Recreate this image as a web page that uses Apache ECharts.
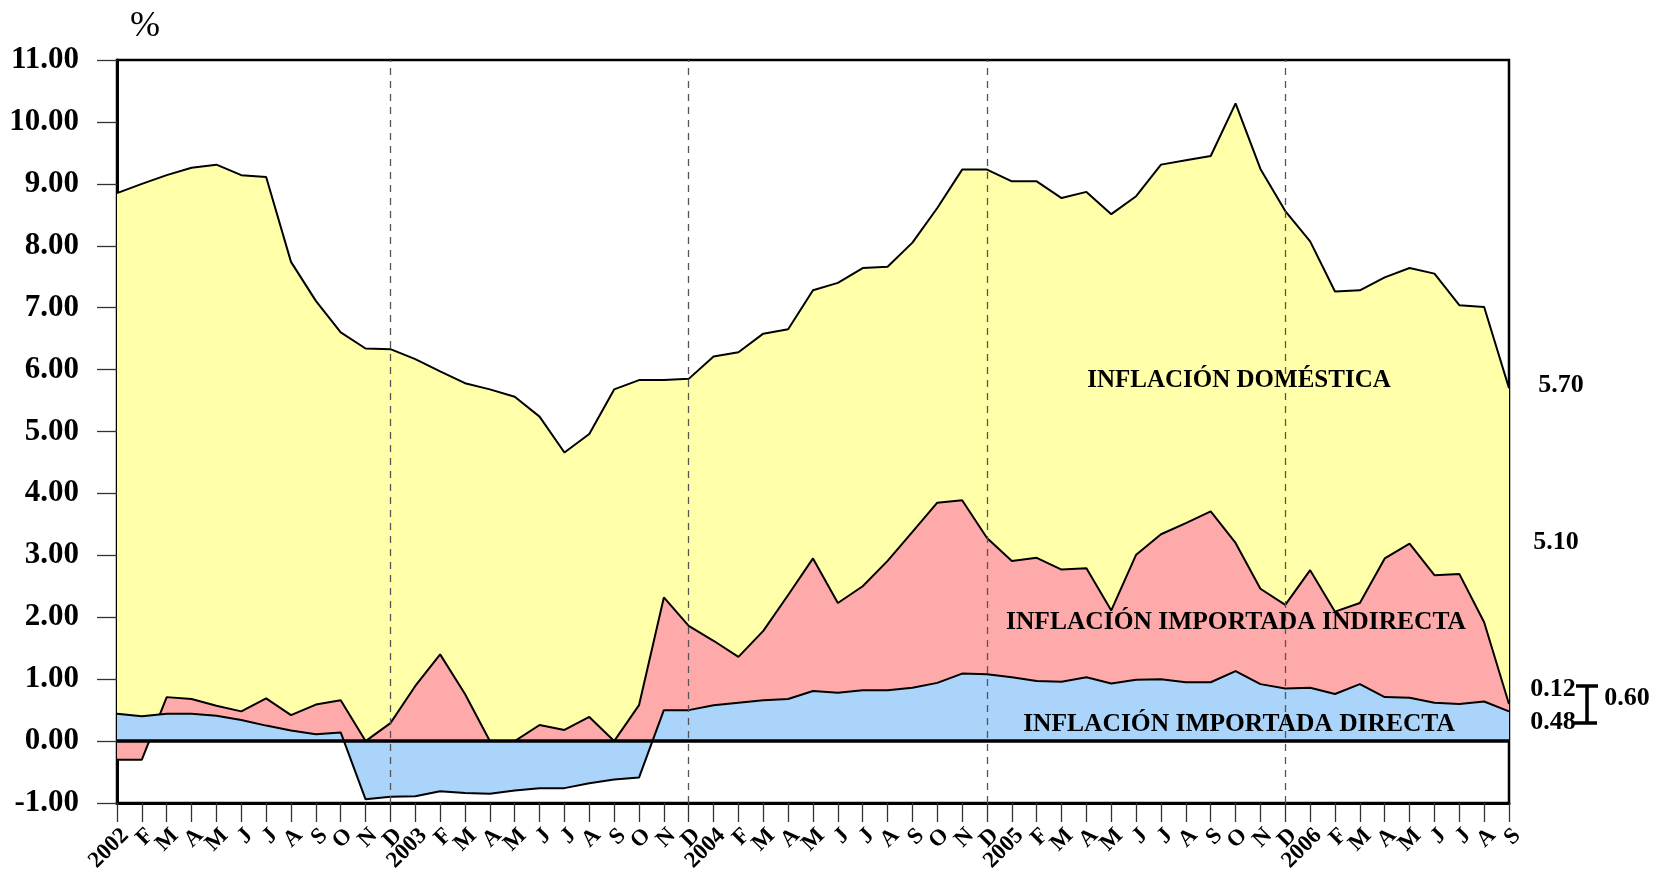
<!DOCTYPE html>
<html><head><meta charset="utf-8">
<script src="https://cdn.jsdelivr.net/npm/echarts@6/dist/echarts.min.js"></script>
<style>html,body{margin:0;padding:0;background:#fff}#c{width:1656px;height:869px}</style>
</head><body><div id="c"></div>
<script>
// Month tick labels, Jan 2002 .. Sep 2006
const tickLabels = [
  '2002','F','M','A','M','J','J','A','S','O','N','D',
  '2003','F','M','A','M','J','J','A','S','O','N','D',
  '2004','F','M','A','M','J','J','A','S','O','N','D',
  '2005','F','M','A','M','J','J','A','S','O','N','D',
  '2006','F','M','A','M','J','J','A','S'
];
// Inflación importada directa (%)
const direct = [
  0.44,0.40,0.44,0.44,0.41,0.34,0.25,0.17,0.11,0.14,-0.94,-0.90,
  -0.89,-0.81,-0.84,-0.85,-0.80,-0.76,-0.76,-0.68,-0.62,-0.59,0.50,0.50,
  0.58,0.62,0.66,0.68,0.81,0.78,0.82,0.82,0.86,0.94,1.09,1.08,
  1.03,0.97,0.96,1.03,0.93,0.99,1.00,0.95,0.95,1.13,0.92,0.85,
  0.86,0.76,0.92,0.71,0.70,0.62,0.60,0.64,0.48
];
// Inflación importada indirecta (%)
const indirect = [
  -0.30,-0.30,0.27,0.24,0.16,0.14,0.44,0.25,0.48,0.52,0,0.29,
  0.89,1.40,0.76,0,0,0.26,0.18,0.39,0,0.58,1.82,1.36,
  1.04,0.74,1.12,1.68,2.14,1.45,1.68,2.09,2.52,2.91,2.80,2.20,
  1.88,1.99,1.81,1.76,1.18,2.02,2.34,2.57,2.76,2.07,1.54,1.35,
  1.90,1.33,1.31,2.24,2.49,2.06,2.10,1.28,0.12
];
// Inflación doméstica (%)
const domestic = [
  8.41,8.60,8.43,8.58,8.74,8.66,8.42,7.32,6.52,5.94,6.34,6.04,
  5.28,4.57,5.02,5.68,5.56,4.98,4.48,4.57,5.68,5.25,3.51,3.99,
  4.59,4.92,4.80,4.29,4.33,5.17,5.14,4.75,4.67,4.76,5.34,5.95,
  6.13,6.08,6.00,6.08,6.40,5.79,5.97,5.86,5.74,7.10,6.78,6.36,
  5.31,5.17,5.05,4.54,4.45,4.87,4.34,5.09,5.10
];
const yTicks = [-1,0,1,2,3,4,5,6,7,8,9,10,11];
const seriesNames = ['INFLACIÓN DOMÉSTICA','INFLACIÓN IMPORTADA INDIRECTA','INFLACIÓN IMPORTADA DIRECTA'];
const endLabels = {total:'5.70', domestic:'5.10', indirect:'0.12', direct:'0.48', imported:'0.60'};

// stacked boundaries (same-sign stacking)
const pos = v => Math.max(v, 0);
const indirectTop = indirect.map((v, i) => v < 0 ? v : +(pos(direct[i]) + v).toFixed(2));
const totalTop = domestic.map((v, i) => +(pos(direct[i]) + pos(indirect[i]) + v).toFixed(2));
const decIdx = tickLabels.map((t, i) => t === 'D' ? i : -1).filter(i => i >= 0);

const serif = '"Liberation Serif", "Times New Roman", serif';
function txt(text, x, y, size, weight) {
  return { type: 'text', x: x, y: y, z: 100, silent: true,
    style: { text: text, font: (weight || 'bold') + ' ' + size + 'px ' + serif, fill: '#000',
      textAlign: 'center', textVerticalAlign: 'middle', align: 'center', verticalAlign: 'middle' } };
}

const chart = echarts.init(document.getElementById('c'), null, {renderer: 'canvas'});
chart.setOption({
  animation: false,
  backgroundColor: '#fff',
  grid: { left: 117, right: 147, top: 60, bottom: 66, containLabel: false, outerBoundsMode: 'none',
    show: true, borderColor: '#000', borderWidth: 2.5, backgroundColor: 'transparent' },
  xAxis: {
    type: 'category', data: tickLabels, boundaryGap: false,
    axisLine: { onZero: false, lineStyle: { color: '#000', width: 3 } },
    axisTick: { show: true, interval: 0, length: 19, lineStyle: { color: '#333', width: 1.3 } },
    axisLabel: { interval: 0, rotate: 45, margin: 21, verticalAlign: 'top', color: '#000', fontFamily: serif, fontWeight: 'bold', fontSize: 23 },
    splitLine: { show: false }
  },
  yAxis: {
    type: 'value', min: yTicks[0], max: yTicks[yTicks.length - 1], interval: 1,
    axisLine: { show: true, lineStyle: { color: '#000', width: 3 } },
    axisTick: { show: true, length: 20, lineStyle: { color: '#333', width: 1.3 } },
    axisLabel: { margin: 38, color: '#000', fontFamily: serif, fontWeight: 'bold', fontSize: 31, formatter: v => v.toFixed(2) },
    splitLine: { show: false }
  },
  series: [
    { name: seriesNames[0], type: 'line', data: totalTop, showSymbol: false, z: 2,
      lineStyle: { color: '#000', width: 2 }, areaStyle: { color: '#ffffaa', opacity: 1 } },
    { name: seriesNames[1], type: 'line', data: indirectTop, showSymbol: false, z: 3,
      lineStyle: { color: '#000', width: 2 }, areaStyle: { color: '#ffaaaa', opacity: 1 } },
    { name: seriesNames[2], type: 'line', data: direct, showSymbol: false, z: 4,
      lineStyle: { color: '#000', width: 2 }, areaStyle: { color: '#aad4fa', opacity: 1 },
      markLine: { silent: true, symbol: ['none', 'none'], label: { show: false }, z: 10,
        data: [
          { yAxis: 0, lineStyle: { color: '#000', width: 3.5, type: 'solid' } }
        ].concat(decIdx.map(i => ({ xAxis: i, lineStyle: { color: '#555', width: 1.3, type: [7, 6] } })))
      } }
  ],
  graphic: [
    txt('%', 145, 27, 36, 'normal'),
    txt(seriesNames[0], 1239, 381, 25),
    txt(seriesNames[1], 1236, 622, 25.5),
    txt(seriesNames[2], 1239, 724, 25.5),
    txt(endLabels.total, 1561, 385, 26),
    txt(endLabels.domestic, 1556, 542, 26),
    txt(endLabels.indirect, 1553, 689, 26),
    txt(endLabels.direct, 1553, 722, 26),
    txt(endLabels.imported, 1627, 698, 26),
    { type: 'polyline', silent: true, z: 100, shape: { points: [[1576, 686], [1598, 686]] }, style: { stroke: '#000', lineWidth: 3.5, fill: null } },
    { type: 'polyline', silent: true, z: 100, shape: { points: [[1587, 686], [1587, 723]] }, style: { stroke: '#000', lineWidth: 3.5, fill: null } },
    { type: 'polyline', silent: true, z: 100, shape: { points: [[1574, 723], [1597, 723]] }, style: { stroke: '#000', lineWidth: 3.5, fill: null } }
  ]
});
</script></body></html>
